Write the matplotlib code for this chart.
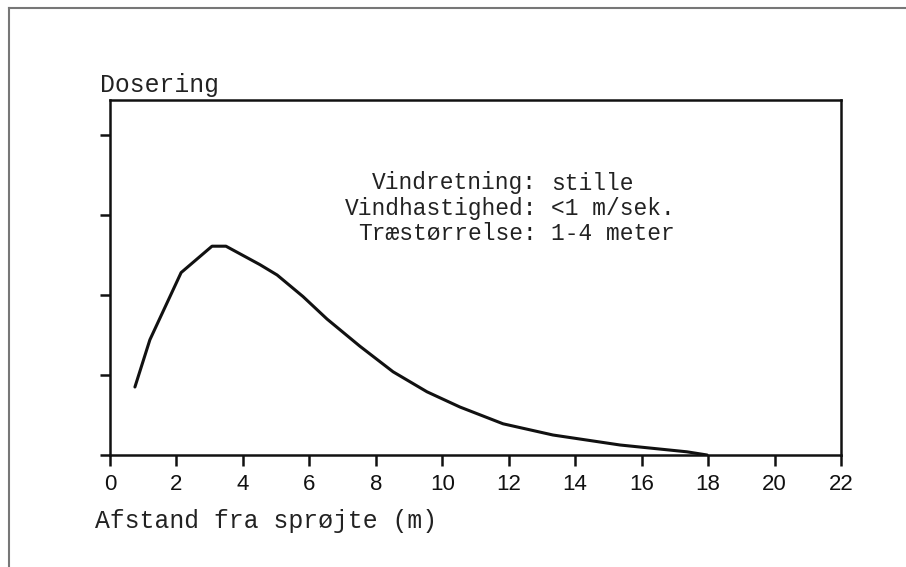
import matplotlib
matplotlib.use('Agg')
import matplotlib.pyplot as plt
from matplotlib.lines import Line2D

# afstand (m) og dosering (relativ)
afstand = [0.75, 1.2, 2.14, 3.07, 3.49, 4.51, 5.03, 5.81, 6.53, 7.52,
           8.52, 9.54, 10.53, 11.83, 13.33, 15.35, 17.36, 17.97]
dosering = [0.85, 1.44, 2.28, 2.61, 2.61, 2.38, 2.25, 1.98, 1.70, 1.36,
            1.04, 0.79, 0.60, 0.39, 0.25, 0.125, 0.04, 0.0]

x_ticks = list(range(0, 23, 2))
y_ticks = [0, 1, 2, 3, 4]

info_labels = ['Vindretning:', 'Vindhastighed:', 'Træstørrelse:']
info_values = ['stille', '<1 m/sek.', '1-4 meter']

mono = 'Liberation Mono'
W, H = 906, 567

fig = plt.figure(figsize=(W / 100, H / 100), dpi=100)
ax = fig.add_axes([110 / W, 1 - 455 / H, (841 - 110) / W, (455 - 100) / H])

ax.plot(afstand, dosering, color='#111111', lw=2.2, solid_capstyle='round',
        solid_joinstyle='round')

ax.set_xlim(0, 22)
ax.set_ylim(0, 355 / 80)
ax.set_xticks(x_ticks)
ax.set_xticklabels([str(t) for t in x_ticks], family='Liberation Sans', fontsize=16)
ax.set_yticks(y_ticks)
ax.set_yticklabels([])
ax.tick_params(axis='x', direction='out', length=8, width=1.8, pad=6, colors='#111111')
ax.tick_params(axis='y', direction='out', length=7, width=1.8, colors='#111111')
for s in ax.spines.values():
    s.set_linewidth(1.8)
    s.set_color('#111111')

# kommentar, justeret ved kolon
colon_x = 537 / W
for i, (lab, val) in enumerate(zip(info_labels, info_values)):
    y = 1 - (183 + i * 25.5) / H
    fig.text(colon_x, y, lab, family=mono, fontsize=16.5, ha='right', va='center', color='#222222')
    fig.text(colon_x + 14 / W, y, val, family=mono, fontsize=16.5, ha='left', va='center', color='#222222')

fig.text(100 / W, 1 - 85 / H, 'Dosering', family=mono, fontsize=17.8, ha='left', va='center', color='#222222')
fig.text(95 / W, 1 - 521 / H, 'Afstand fra sprøjte (m)', family=mono, fontsize=17.8,
         ha='left', va='center', color='#222222')

# ramme om figuren
fig.add_artist(Line2D([9 / W, 9 / W], [0, 1 - 8 / H], transform=fig.transFigure, color='#777777', lw=1.5))
fig.add_artist(Line2D([9 / W, 1], [1 - 8 / H, 1 - 8 / H], transform=fig.transFigure, color='#777777', lw=1.5))

fig.savefig('out.png', dpi=100)
